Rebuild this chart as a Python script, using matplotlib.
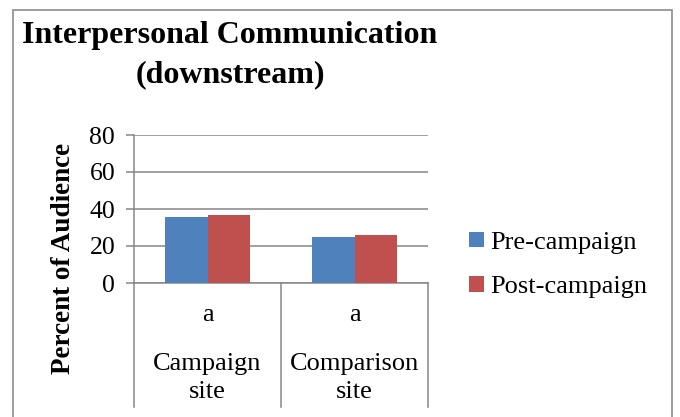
import matplotlib
matplotlib.use("Agg")
import matplotlib.pyplot as plt
from matplotlib.patches import Rectangle
import numpy as np

plt.rcParams['font.family'] = ['Liberation Serif', 'DejaVu Serif']

# data
sites = ["Campaign\nsite", "Comparison\nsite"]
sig_marks = ["a", "a"]
pre_campaign = [35.5, 25.0]
post_campaign = [36.6, 25.8]
series_names = ["Pre-campaign", "Post-campaign"]
yticks = [0, 20, 40, 60, 80]

blue = "#4F81BD"
red = "#C0504D"
grey = "#868686"

W, H = 680, 417
fig = plt.figure(figsize=(W / 100, H / 100), dpi=100)

# outer chart frame
fig.patches.append(Rectangle((13 / W, -0.05), (672 - 13) / W, 1 - 10 / H + 0.05,
                             transform=fig.transFigure, fill=False,
                             edgecolor="#8C8C8C", linewidth=1.2))

left, right, top, bottom = 134, 428, 135, 283
ax = fig.add_axes([left / W, 1 - bottom / H, (right - left) / W, (bottom - top) / H])

x = np.arange(len(sites)) + 0.5
bw = 0.286
b1 = ax.bar(x - bw / 2, pre_campaign, bw, color=blue, label=series_names[0], zorder=3)
b2 = ax.bar(x + bw / 2, post_campaign, bw, color=red, label=series_names[1], zorder=3)

ax.set_xlim(0, len(sites))
ax.set_ylim(0, 80)
ax.set_yticks(yticks)
ax.yaxis.grid(True, color=grey, linewidth=1.1, zorder=0)
ax.set_xticks([])
ax.tick_params(axis="y", length=5.5, color=grey, width=1.1, labelsize=18.5, pad=8)
for s in ["top", "right"]:
    ax.spines[s].set_visible(False)
for s in ["left", "bottom"]:
    ax.spines[s].set_color(grey)
    ax.spines[s].set_linewidth(1.1)

# multi-level category axis dividers
trans = ax.get_xaxis_transform()
low = (bottom - 407) / (bottom - top)
for xv in range(len(sites) + 1):
    ax.plot([xv, xv], [0, low], transform=trans, color=grey, linewidth=1.1,
            clip_on=False)

for xi, mark, name in zip(x, sig_marks, sites):
    ax.text(xi, (bottom - 315) / (bottom - top), mark, transform=trans,
            ha="center", va="center", fontsize=19)
    ax.text(xi, (bottom - 378) / (bottom - top), name, transform=trans,
            ha="center", va="center", fontsize=19, linespacing=1.3)

fig.text(63 / W, 1 - 258 / H, "Percent of Audience", rotation=90,
         ha="center", va="center", fontsize=19.5, fontweight="bold")

fig.text(230 / W, 1 - 55 / H, "Interpersonal Communication\n(downstream)",
         ha="center", va="center", fontsize=23, fontweight="bold", linespacing=1.5)

fig.legend(handles=[b1, b2], labels=series_names, loc="center left",
           bbox_to_anchor=(469 / W, 1 - 265 / H), frameon=False, fontsize=19,
           handlelength=0.55, handleheight=0.55, handletextpad=0.25,
           labelspacing=0.85, borderpad=0, borderaxespad=0)

fig.savefig("out.png", dpi=100)
